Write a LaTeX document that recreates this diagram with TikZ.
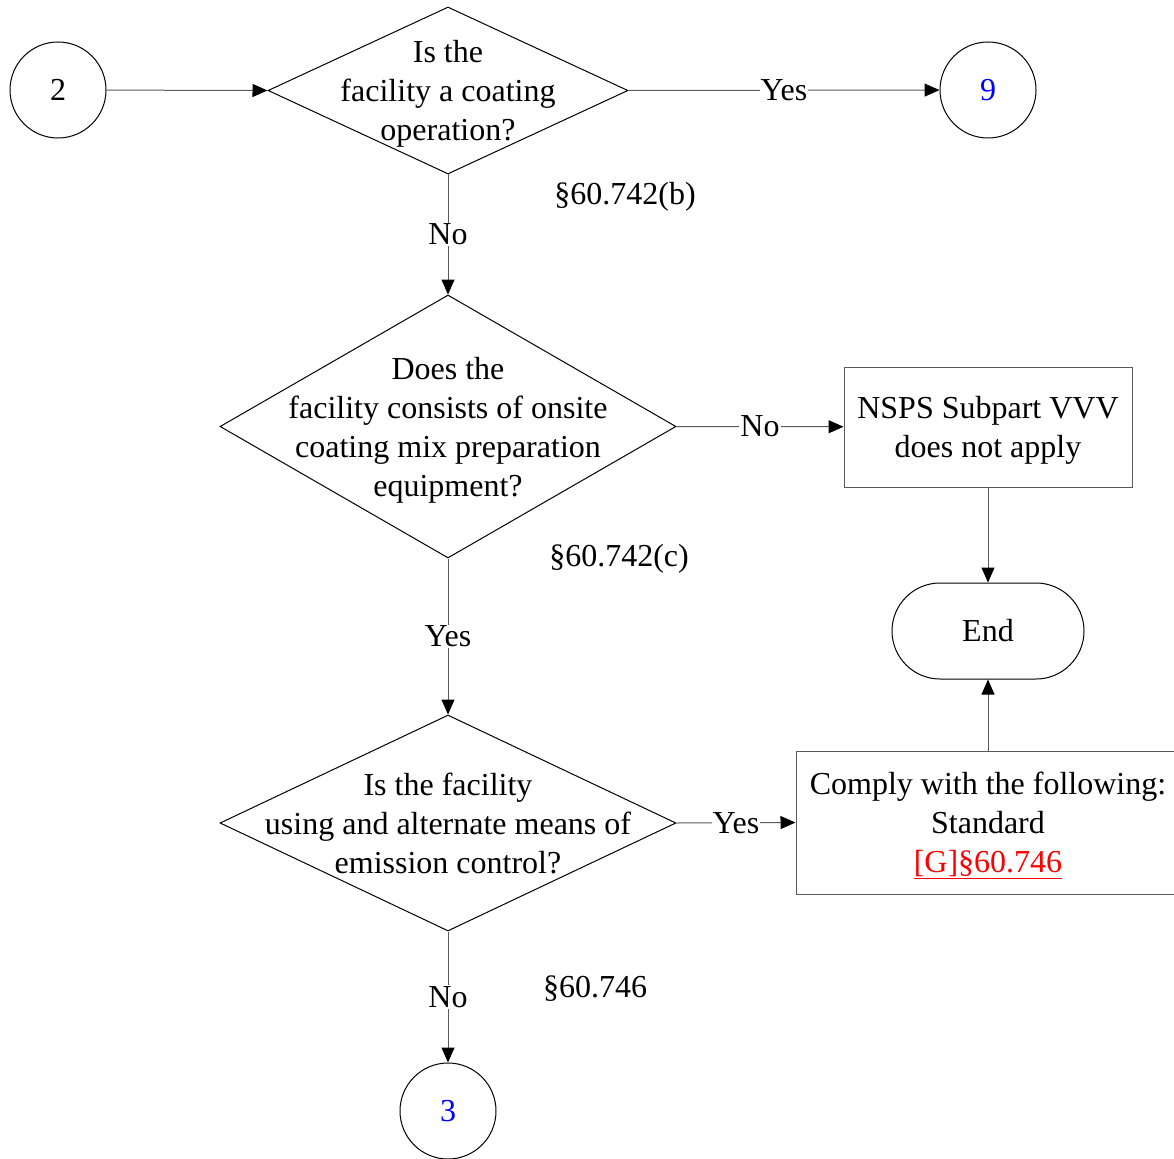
\documentclass[tikz,border=0pt]{standalone}
\usepackage{fontspec}
\setmainfont{Liberation Serif}
\usepackage{xcolor}
\usepackage{tikz}
\usetikzlibrary{positioning,arrows.meta,shapes.geometric}
\definecolor{linkcolor}{RGB}{0, 0, 255}
\definecolor{refcolor}{RGB}{255, 0, 0}
\definecolor{linecolor}{RGB}{90, 90, 90}
\tikzset{
    base text/.style={font=\fontsize{32}{39}\selectfont, align=center},
    flat text/.style={base text, text depth=0pt},
    decision/.style={diamond, draw, line width=1pt, inner sep=0pt},
    decision text/.style={flat text, inner sep=0pt},
    connector/.style={circle, draw, line width=1pt, minimum size=96pt, inner sep=0pt, base text},
    process/.style={rectangle, draw=linecolor, line width=1pt, inner sep=0pt, flat text},
    terminal/.style={rectangle, rounded corners=48pt, draw, line width=1pt, minimum width=192pt, minimum height=96pt, base text},
    section label/.style={flat text},
    flow/.style={-{Triangle[length=15pt,width=13pt,fill=black,color=black]}, line width=1pt, linecolor},
    answer/.style={base text, fill=white, inner sep=1pt, text=black}
}

\begin{document}
\begin{tikzpicture}[x=1pt, y=-1pt]
    \useasboundingbox (0,0) rectangle (1174,1158);

    % Off-page connectors
    \node[connector] (C-2) at (58,90) {2};
    \node[connector, text=linkcolor] (C-9) at (988,90) {9};
    \node[connector, text=linkcolor] (C-3) at (448,1111) {3};

    % Decisions - diamonds with text placed on top
    \node[decision, minimum width=360pt, minimum height=167pt] (Q-1) at (448,90.5) {};
    \node[decision text] (T-1) at (Q-1) {Is the\\facility a coating\\operation?};

    \node[decision, minimum width=456pt, minimum height=263pt] (Q-2) at (448,426.5) {};
    \node[decision text] (T-2) at (Q-2) {Does the\\facility consists of onsite\\coating mix preparation\\equipment?};

    \node[decision, minimum width=456pt, minimum height=216pt] (Q-3) at (448,823) {};
    \node[decision text] (T-3) at (Q-3) {Is the facility\\using and alternate means of\\emission control?};

    % Outcomes
    \node[process, minimum width=288pt, minimum height=120pt] (P-1) at (988,427) {NSPS Subpart VVV\\does not apply};
    \node[terminal] (E-1) at (988,631) {End};
    \node[process, minimum width=384pt, minimum height=143pt] (P-2) at (988,822.5) {Comply with the following:\\Standard\\\textcolor{refcolor}{\underline{[G]§60.746}}};

    % Rule references
    \node[section label] (S-1) at (625,193) {§60.742(b)};
    \node[section label] (S-2) at (619,555) {§60.742(c)};
    \node[section label] (S-3) at (595,987) {§60.746};

    % Connections
    \draw[flow] (C-2) -- (Q-1.west);
    \draw[flow] (Q-1.east) -- node[answer] {Yes} (C-9);
    \draw[flow] (Q-1.south) -- node[answer] {No} (Q-2.north);
    \draw[flow] (Q-2.east) -- node[answer] {No} (P-1);
    \draw[flow] (Q-2.south) -- node[answer] {Yes} (Q-3.north);
    \draw[flow] (Q-3.east) -- node[answer] {Yes} (P-2.west);
    \draw[flow] (Q-3.south) -- node[answer] {No} (C-3);
    \draw[flow] (P-1) -- (E-1);
    \draw[flow] (P-2) -- (E-1);
\end{tikzpicture}
\end{document}
